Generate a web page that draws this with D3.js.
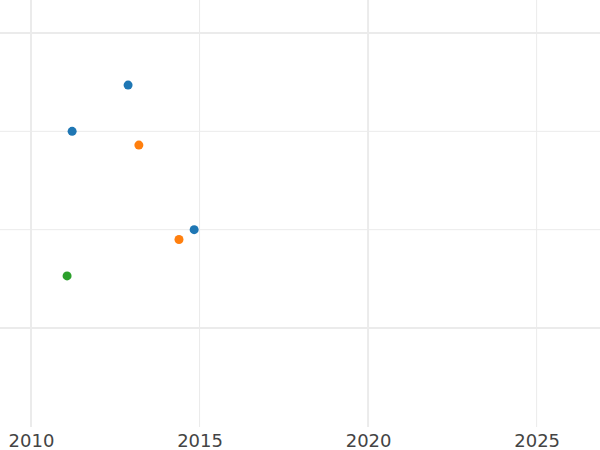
<!DOCTYPE html>
<html>
<head>
<meta charset="utf-8">
<script src="https://cdn.jsdelivr.net/npm/d3@7"></script>
<style>
html,body{margin:0;padding:0;background:#fff;}
svg{display:block;font-family:"DejaVu Sans",sans-serif;}
</style>
</head>
<body>
<svg id="chart" width="600" height="450"></svg>
<script>
// Data
const seriesNames = ["A", "B", "C"];
const seriesColors = ["#1f77b4", "#ff7f0e", "#2ca02c"];
const xValues = [2012.88, 2011.22, 2014.84, 2013.2, 2014.39, 2011.07];
const yValues = [2.47, 2.0, 1.0, 1.86, 0.9, 0.53];
const seriesOf = ["A", "A", "A", "B", "B", "C"];
const xMajorTicks = [2010, 2020];
const xMinorTicks = [2015, 2025];
const xTickLabels = [2010, 2015, 2020, 2025];
const yMajorTicks = [0, 3];
const yMinorTicks = [1, 2];

const W = 600, H = 450;
const plotTop = 0, plotBottom = 427;
const svg = d3.select("#chart");

const x = d3.scaleLinear().domain([2009.08, 2026.88]).range([0, W]);
const y = d3.scaleLinear().domain([0, 3]).range([328, 33]);
const color = d3.scaleOrdinal().domain(seriesNames).range(seriesColors);

const grid = svg.append("g");
// minor gridlines
grid.selectAll(".xminor").data(xMinorTicks).join("line")
  .attr("x1", d => x(d)).attr("x2", d => x(d))
  .attr("y1", plotTop).attr("y2", plotBottom)
  .attr("stroke", "#ebebeb").attr("stroke-width", 1);
grid.selectAll(".yminor").data(yMinorTicks).join("line")
  .attr("class","yminor")
  .attr("x1", 0).attr("x2", W)
  .attr("y1", d => y(d)).attr("y2", d => y(d))
  .attr("stroke", "#ebebeb").attr("stroke-width", 1);
// major gridlines
grid.selectAll(".xmajor").data(xMajorTicks).join("line")
  .attr("class","xmajor")
  .attr("x1", d => x(d)).attr("x2", d => x(d))
  .attr("y1", plotTop).attr("y2", plotBottom)
  .attr("stroke", "#ebebeb").attr("stroke-width", 2);
grid.selectAll(".ymajor").data(yMajorTicks).join("line")
  .attr("class","ymajor")
  .attr("x1", 0).attr("x2", W)
  .attr("y1", d => y(d)).attr("y2", d => y(d))
  .attr("stroke", "#ebebeb").attr("stroke-width", 2);

// x axis labels
const xAxis = d3.axisBottom(x).tickValues(xTickLabels).tickSize(0).tickPadding(0).tickFormat(d3.format("d"));
const gx = svg.append("g").attr("transform", `translate(0,${plotBottom})`).call(xAxis);
gx.select(".domain").remove();
gx.selectAll("text").attr("font-size", 18).attr("font-family", "DejaVu Sans, sans-serif")
  .attr("fill", "#444").attr("dy", null).attr("y", 20);

// points
const pts = xValues.map((v, i) => ({x: v, y: yValues[i], s: seriesOf[i]}));
svg.append("g").selectAll("circle").data(pts).join("circle")
  .attr("cx", d => x(d.x)).attr("cy", d => y(d.y)).attr("r", 4.5)
  .attr("fill", d => color(d.s));
</script>
</body>
</html>
